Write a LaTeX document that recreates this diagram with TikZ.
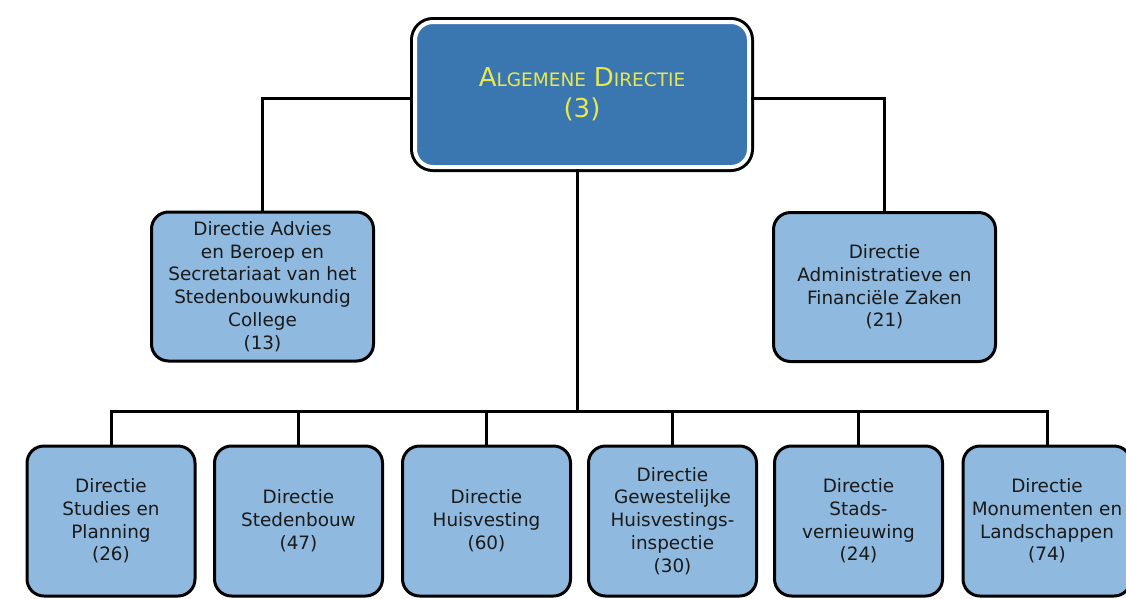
\documentclass[tikz,border=0pt]{standalone}
\usepackage{fontspec}
\setmainfont{DejaVu Sans}
\definecolor{lblue}{HTML}{8FB9DE}
\definecolor{dblue}{HTML}{3A76B0}
\definecolor{ylw}{HTML}{E8E84E}
\definecolor{txt}{HTML}{1A1A1A}
\newcommand\smc[1]{{\fontsize{18.5}{30}\selectfont #1}}
\tikzset{
  orgbox/.style={draw=black, line width=3pt, rounded corners=17pt, fill=lblue,
    align=center, text=txt, inner sep=0pt,
    font=\fontsize{18.4}{22.8}\selectfont},
  midbox/.style={orgbox, minimum width=222pt, minimum height=149pt},
  lowbox/.style={orgbox, minimum width=168pt, minimum height=150pt},
  topbox/.style={preaction={draw=black, line width=10pt}, draw=white, line width=4pt,
    fill=dblue, rounded corners=18pt, minimum width=334pt, minimum height=145pt,
    align=center, text=ylw, inner sep=0pt, font=\fontsize{26}{31}\selectfont},
  conn/.style={draw=black, line width=3pt, line join=miter}
}
\begin{document}
\begin{tikzpicture}[x=1pt,y=-1pt]
\useasboundingbox[fill=white] (0,0) rectangle (1126,598);
\node[topbox] (top) at (582,94.5) {A\smc{LGEMENE}\hspace{0.3em}D\smc{IRECTIE}\\(3)};
\node[midbox] (adv) at (262.5,286.5) {Directie Advies\\en Beroep en\\Secretariaat van het\\Stedenbouwkundig\\College\\(13)};
\node[midbox] (adm) at (884.5,287) {Directie\\Administratieve en\\Financiële Zaken\\(21)};
\node[lowbox] (b1) at (111,521) {Directie\\Studies en\\Planning\\(26)};
\node[lowbox] (b2) at (298.5,521) {Directie\\Stedenbouw\\(47)};
\node[lowbox] (b3) at (486.5,521) {Directie\\Huisvesting\\(60)};
\node[lowbox] (b4) at (672.5,521) {Directie\\Gewestelijke\\Huisvestings-\\inspectie\\(30)};
\node[lowbox] (b5) at (858.5,521) {Directie\\Stads-\\vernieuwing\\(24)};
\node[lowbox] (b6) at (1047,521) {Directie\\Monumenten en\\Landschappen\\(74)};
\coordinate (bar) at (577,411);
\draw[conn] ([yshift=-3.5pt]top.west) -| (adv.north);
\draw[conn] ([yshift=-3.5pt]top.east) -| (adm.north);
\draw[conn] (top.south -| bar) -- (bar);
\draw[conn] (b1.north) -- (b1.north |- bar) -- (b6.north |- bar) -- (b6.north);
\foreach \n in {b2,b3,b4,b5} \draw[conn] (\n.north) -- (\n.north |- bar);
\end{tikzpicture}
\end{document}
